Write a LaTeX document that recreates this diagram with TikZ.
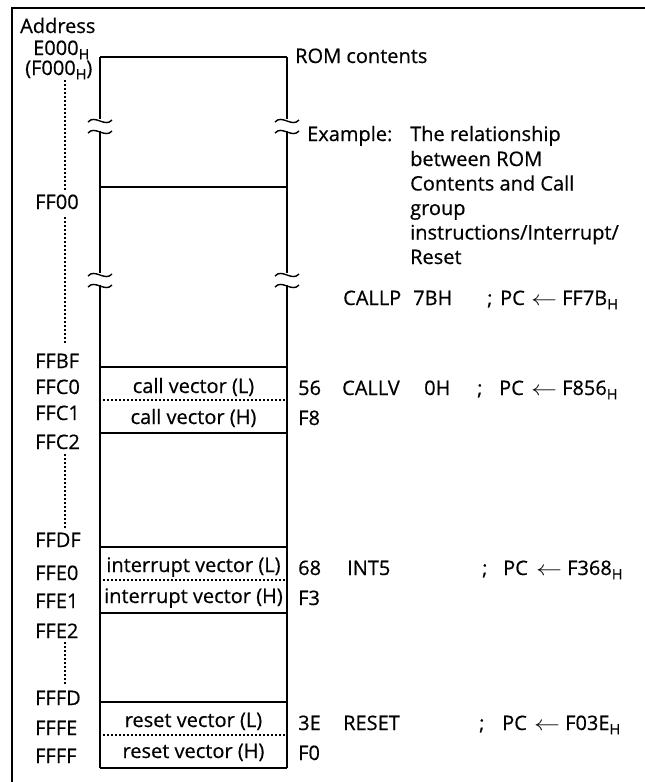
\documentclass[tikz,border=0pt]{standalone}
\usepackage{fontspec}
\setmainfont[FakeBold=0.5]{Open Sans}
\newcommand\Hs{\raisebox{-0.22em}{\fontsize{14.5}{14.5}\selectfont H}}
\newcommand\lar{\scalebox{1.25}[1.0]{$\leftarrow$}}
\begin{document}
\begin{tikzpicture}[x=1pt,y=-1pt,
  txt/.style={anchor=base west,inner sep=0pt,font=\fontsize{20}{24}\selectfont},
  celltxt/.style={anchor=base,inner sep=0pt,font=\fontsize{20}{24}\selectfont},
  boxline/.style={line width=1.6pt},
  frameline/.style={line width=2.2pt},
  dotline/.style={line width=1.5pt,dash pattern=on 1.5pt off 2.5pt},
  brkline/.style={line width=1.4pt}]
\useasboundingbox (0,0) rectangle (645,782);
% frame
\draw[frameline] (12,782) -- (12,8) -- (645,8);
% box verticals with breaks
\foreach \bx in {100,287}{
  \draw[boxline] (\bx,57) -- (\bx,119);
  \draw[boxline] (\bx,131) -- (\bx,273);
  \draw[boxline] (\bx,285) -- (\bx,768);
  \foreach \by in {121,132,275,286}{
    \draw[brkline] (\bx-12,\by+1) .. controls (\bx-5,\by-7) and (\bx+5,\by+7) .. (\bx+12,\by-1);
  }
}
% horizontals
\foreach \hy in {57,187,367,433,547,613,702,768}{
  \draw[boxline] (100,\hy) -- (287,\hy);
}
\foreach \hy in {400,580,735}{
  \draw[dotline] (103,\hy) -- (285,\hy);
}
% address dotted verticals
\draw[dotline] (65,80) -- (65,190);
\draw[dotline] (65,217) -- (65,343);
\draw[dotline] (65,454) -- (65,528);
\draw[dotline] (65,642) -- (65,684);
% address labels
\node[txt] (addr) at (20,33) {Address};
\node[txt] (e000) at (33,55) {E000\Hs};
\node[txt] (f000) at (25,75) {(F000\Hs)};
\node[txt] (ff00) at (35,209) {FF00};
\node[txt] (ffbf) at (35,368) {FFBF};
\node[txt] (ffc0) at (35,394) {FFC0};
\node[txt] (ffc1) at (35,420) {FFC1};
\node[txt] (ffc2) at (35,449) {FFC2};
\node[txt] (ffdf) at (35,547) {FFDF};
\node[txt] (ffe0) at (35,580) {FFE0};
\node[txt] (ffe1) at (35,608) {FFE1};
\node[txt] (ffe2) at (35,638) {FFE2};
\node[txt] (fffd) at (35,705) {FFFD};
\node[txt] (fffe) at (35,735) {FFFE};
\node[txt] (ffff) at (35,763) {FFFF};
% cell texts
\node[celltxt] (cvl) at (193.5,393) {call vector (L)};
\node[celltxt] (cvh) at (193.5,424) {call vector (H)};
\node[celltxt] (ivl) at (193.5,572) {interrupt vector (L)};
\node[celltxt] (ivh) at (193.5,603) {interrupt vector (H)};
\node[celltxt] (rvl) at (193.5,727) {reset vector (L)};
\node[celltxt] (rvh) at (193.5,758) {reset vector (H)};
% right side
\node[txt] (rom) at (295,63) {ROM contents};
\node[txt] (ex) at (307,141) {Example:};
\node[txt] (p1) at (410,141) {The relationship};
\node[txt] (p2) at (410,166) {between ROM};
\node[txt] (p3) at (410,190.5) {Contents and Call};
\node[txt] (p4) at (410,215) {group};
\node[txt] (p5) at (410,239.5) {instructions/Interrupt/};
\node[txt] (p6) at (410,264) {Reset};
% CALLP
\node[txt] (cp1) at (343,305) {CALLP};
\node[txt] (cp2) at (413,305) {7BH};
\node[txt] (cp3) at (487,305) {;};
\node[txt] (cp4) at (500,305) {PC};
\node[txt] (cp5) at (531,305) {\lar};
\node[txt] (cp6) at (562,305) {FF7B\Hs};
% CALLV
\node[txt] (v56) at (298,395) {56};
\node[txt] (vf8) at (298,425) {F8};
\node[txt] (cv1) at (342,395) {CALLV};
\node[txt] (cv2) at (424,395) {0H};
\node[txt] (cv3) at (477,395) {;};
\node[txt] (cv4) at (499,395) {PC};
\node[txt] (cv5) at (531,395) {\lar};
\node[txt] (cv6) at (562,395) {F856\Hs};
% INT5
\node[txt] (v68) at (298,575) {68};
\node[txt] (vf3) at (298,605) {F3};
\node[txt] (in1) at (347,575) {INT5};
\node[txt] (in3) at (482,575) {;};
\node[txt] (in4) at (503,575) {PC};
\node[txt] (in5) at (536,575) {\lar};
\node[txt] (in6) at (567,575) {F368\Hs};
% RESET
\node[txt] (v3e) at (298,730) {3E};
\node[txt] (vf0) at (298,760) {F0};
\node[txt] (rs1) at (343,730) {RESET};
\node[txt] (rs3) at (479,730) {;};
\node[txt] (rs4) at (502,730) {PC};
\node[txt] (rs5) at (534,730) {\lar};
\node[txt] (rs6) at (565,730) {F03E\Hs};
\end{tikzpicture}
\end{document}
